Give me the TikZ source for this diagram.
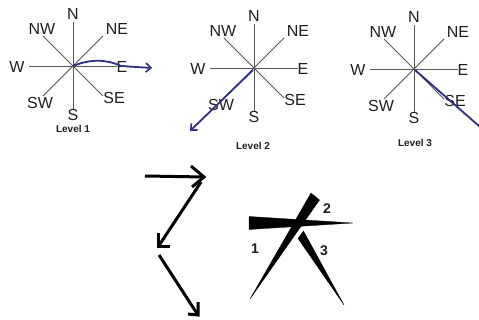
\documentclass[tikz,border=0pt]{standalone}
\usepackage{fontspec}
\setmainfont{Liberation Sans}
\usetikzlibrary{arrows.meta}
\definecolor{navy}{HTML}{2E3085}
\definecolor{txt}{HTML}{1E1E1E}
\begin{document}
\begin{tikzpicture}[x=1pt,y=-1pt,
  dirlbl/.style={font=\fontsize{16}{16}\selectfont,text=txt,inner sep=0pt},
  lvl/.style={font=\fontsize{10}{10}\selectfont\bfseries,text=txt,inner sep=0pt},
  ray/.style={draw=gray!70!black,line width=0.9pt},
  move/.style={draw=navy,line width=1.8pt,-{Straight Barb[length=5pt,width=9pt,line width=1.6pt]}},
  stroke/.style={draw=black,line width=3pt,line cap=butt,line join=miter},
  wedge/.style={fill=black,draw=black,line width=0.3pt},
  num/.style={font=\fontsize{14}{14}\selectfont\bfseries,text=txt,inner sep=0pt},
  compass/.pic={
    \coordinate (-c) at (0,0);
    \draw[ray] (0,-44) -- (0,44);
    \draw[ray] (-44,0) -- (44,0);
    \draw[ray] (-30,-30) -- (30,30);
    \draw[ray] (30,-30) -- (-30,30);
    \node[dirlbl] (-n) at (0,-52) {N};
    \node[dirlbl] (-nw) at (-31,-37) {NW};
    \node[dirlbl] (-ne) at (44,-37) {NE};
    \node[dirlbl] (-w) at (-56,1) {W};
    \node[dirlbl] (-e) at (49,1) {E};
    \node[dirlbl] (-sw) at (-33,37) {SW};
    \node[dirlbl] (-se) at (41,32) {SE};
    \node[dirlbl] (-s) at (0,49) {S};
  }]
\useasboundingbox[fill=white] (0,0) rectangle (479,320);

% compasses
\pic (ca) at (73,66) {compass};
\pic (cb) at (254,68) {compass};
\pic (cc) at (414,69) {compass};

\node[lvl] (la) at (73,129) {Level 1};
\node[lvl] (lb) at (253,146) {Level 2};
\node[lvl] (lc) at (415,143) {Level 3};

% moves
\coordinate (ma) at (152,68);
\coordinate (mb) at (190,131);
\coordinate (mc) at (487,133);
\draw[move] (ca-c) .. controls (90,59) and (106,59) .. (121,66) -- (ma);
\draw[move] ([shift={(-1,2)}]cb-c) -- (mb);
\draw[move] ([shift={(1,1)}]cc-c) -- (mc);

% zigzag arrows
\coordinate (z1) at (145,176);
\coordinate (z2) at (204,177);
\coordinate (z3) at (158,247);
\coordinate (z4) at (159,255);
\coordinate (z5) at (198,315);
\draw[stroke] (z1) -- (z2);
\draw[stroke] (191,166) -- (z2) -- (192,187);
\draw[stroke] (201,182) -- (z3);
\draw[stroke] (158,233) -- (z3) -- (170,247);
\draw[stroke] (z4) -- (z5);
\draw[stroke] (188,314) -- (z5) -- (198,302);

% wedges
\coordinate (w1) at (353,223);
\coordinate (w2) at (250,299);
\coordinate (w3) at (344,305);
\fill[wedge] (249,216.5) -- (w1) -- (249,229.5) -- cycle;
\fill[wedge] (311,193) -- (319.5,200) -- (w2) -- cycle;
\fill[wedge] (303.5,231) -- (w3) -- (298,238.5) -- cycle;

\node[num] (n1) at (255,249) {1};
\node[num] (n2) at (327,209) {2};
\node[num] (n3) at (324,251) {3};
\end{tikzpicture}
\end{document}
